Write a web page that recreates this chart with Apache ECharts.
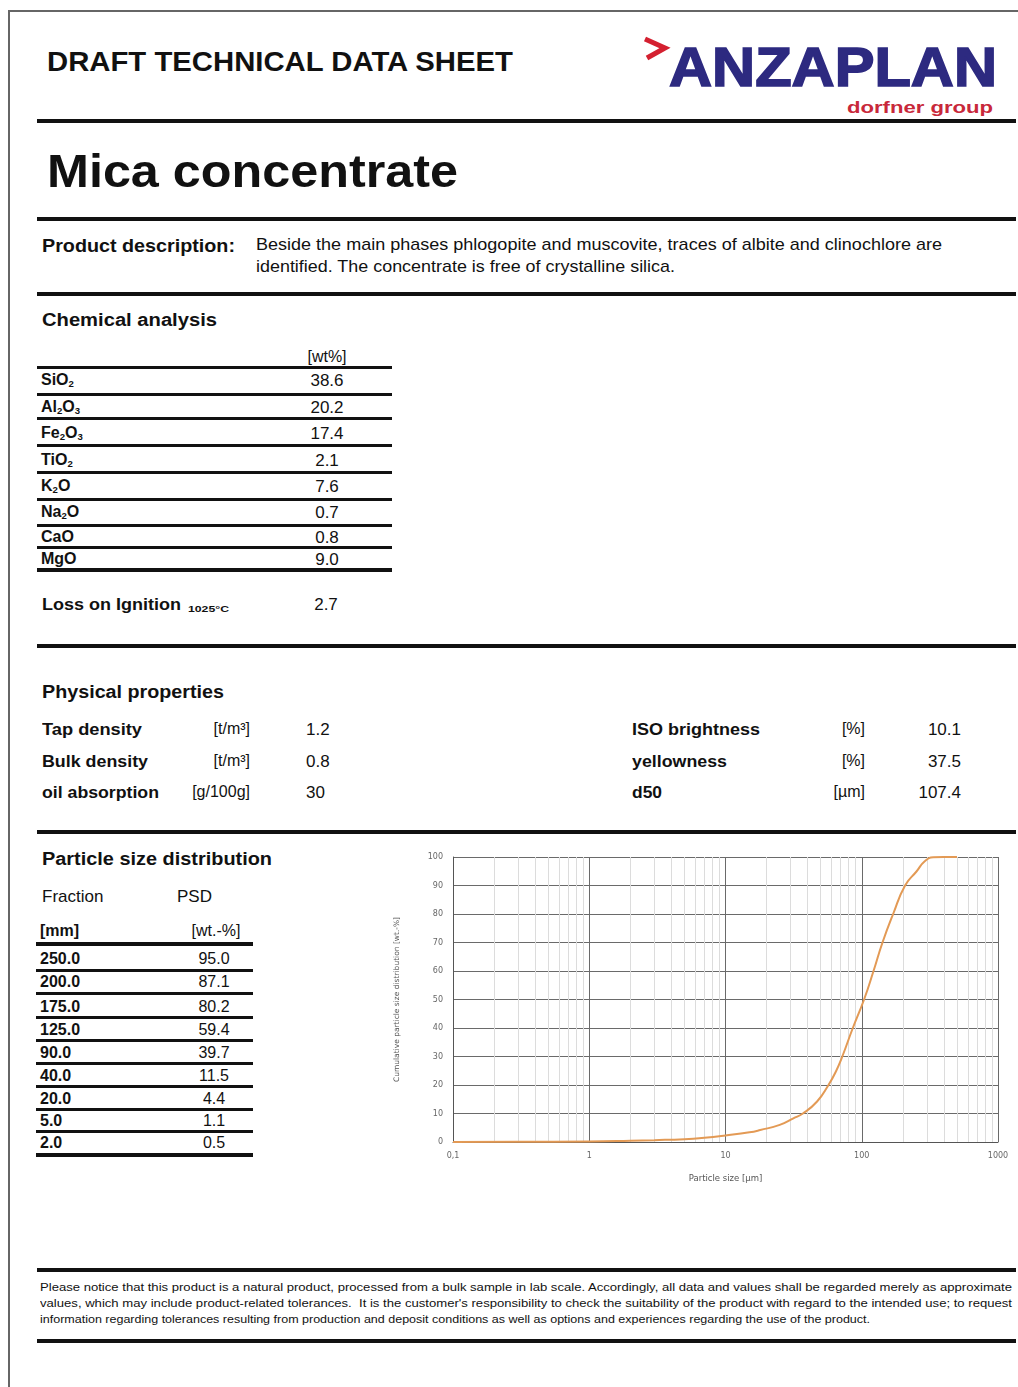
<!DOCTYPE html>
<html>
<head>
<meta charset="utf-8">
<script src="https://cdn.jsdelivr.net/npm/echarts@6/dist/echarts.min.js"></script>
<style>
html,body{margin:0;padding:0;background:#fff;}
body{width:1018px;height:1387px;position:relative;overflow:hidden;font-family:"Liberation Sans",Arial,sans-serif;color:#111;}
.t{position:absolute;white-space:nowrap;line-height:1;transform-origin:0 0;}
.r{position:absolute;background:#111;}
sub{font-size:0.6em;vertical-align:-0.22em;line-height:0;}
#chart{position:absolute;left:380px;top:840px;width:638px;height:360px;}
#frame{position:absolute;left:8px;top:10px;width:1020px;height:1390px;border-top:2px solid #666;border-left:2px solid #666;}
</style>
</head>
<body>
<div id="frame"></div>
<svg style="position:absolute;left:638px;top:33px" width="36" height="32"><polyline points="7,6 27,15 9,25" fill="none" stroke="#d42030" stroke-width="5" stroke-linejoin="miter"/></svg>
<div id="chart"></div>
<script>
// ---------- data ----------
const chemNames = ['SiO<sub>2</sub>','Al<sub>2</sub>O<sub>3</sub>','Fe<sub>2</sub>O<sub>3</sub>','TiO<sub>2</sub>','K<sub>2</sub>O','Na<sub>2</sub>O','CaO','MgO'];
const chemValues = ['38.6','20.2','17.4','2.1','7.6','0.7','0.8','9.0'];
const lossOnIgnition = '2.7';
const physLeftNames = ['Tap density','Bulk density','oil absorption'];
const physLeftUnits = ['[t/m³]','[t/m³]','[g/100g]'];
const physLeftValues = ['1.2','0.8','30'];
const physRightNames = ['ISO brightness','yellowness','d50'];
const physRightUnits = ['[%]','[%]','[µm]'];
const physRightValues = ['10.1','37.5','107.4'];
const psdFractions = ['250.0','200.0','175.0','125.0','90.0','40.0','20.0','5.0','2.0'];
const psdTableValues = ['95.0','87.1','80.2','59.4','39.7','11.5','4.4','1.1','0.5'];
// curve
const psdSize = [0.1, 0.3, 1, 2, 3, 5, 7, 10, 15, 18, 25, 31.5, 37, 47, 57, 65, 72, 86, 104, 122, 142, 170, 208, 253, 290, 335, 400, 500];
const psdCum  = [0, 0.05, 0.2, 0.45, 0.65, 1.0, 1.5, 2.3, 3.4, 4.2, 6.0, 8.3, 10, 14.2, 20, 25, 30, 40, 50, 60, 70, 80, 90, 95, 98.5, 99.9, 100, 100];
const yTicks = [0,10,20,30,40,50,60,70,80,90,100];
const xMajorTicks = ['0,1','1','10','100','1000'];
const minorTickValues = [0.2,0.3,0.4,0.5,0.6,0.7,0.8,0.9,2,3,4,5,6,7,8,9,20,30,40,50,60,70,80,90,200,300,400,500,600,700,800,900];

// ---------- text helpers ----------
const items = [];
function put(html, x, base, fs, o) {
  o = o || {};
  const d = document.createElement('div');
  d.className = 't';
  d.innerHTML = html;
  d.style.fontSize = fs + 'px';
  d.style.top = (base - 0.846 * fs) + 'px';
  d.style.left = x + 'px';
  if (o.b) d.style.fontWeight = 'bold';
  if (o.c) d.style.color = o.c;
  if (o.ff) d.style.fontFamily = o.ff;
  if (o.st) d.style.webkitTextStroke = o.st;
  document.body.appendChild(d);
  items.push({d, x, o});
}
function rule(x1, x2, top, h) {
  const d = document.createElement('div');
  d.className = 'r';
  d.style.left = x1 + 'px'; d.style.width = (x2 - x1) + 'px';
  d.style.top = top + 'px'; d.style.height = h + 'px';
  document.body.appendChild(d);
}
function layout() {
  items.forEach(({d, x, o}) => {
    d.style.transform = 'none';
    const w = d.getBoundingClientRect().width;
    if (o.w) {
      d.style.transform = 'scaleX(' + (o.w / w) + ')';
    } else if (o.al === 'c') {
      d.style.left = (x - w / 2) + 'px';
    } else if (o.al === 'r') {
      d.style.left = (x - w) + 'px';
    }
  });
}

// header
put('DRAFT TECHNICAL DATA SHEET', 47, 72, 28, {b:1, w:466});
put('ANZAPLAN', 669, 87, 55, {b:1, w:328, c:'#2d2a80', st:'1.6px #2d2a80'});
put('dorfner group', 847, 114, 16, {b:1, w:146, c:'#c8283a'});
rule(37, 1016, 119, 4);
put('Mica concentrate', 47, 187, 46, {b:1, w:411});
rule(37, 1016, 217, 4);
put('Product description:', 42, 252, 19, {b:1, w:193});
put('Beside the main phases phlogopite and muscovite, traces of albite and clinochlore are', 256, 250, 17, {w:686});
put('identified. The concentrate is free of crystalline silica.', 256, 272, 17, {w:419});
rule(37, 1016, 292, 4);

// chemical analysis
put('Chemical analysis', 42, 326, 18, {b:1, w:175});
put('[wt%]', 327, 363, 16, {al:'c'});
rule(37, 392, 366, 3);
const chemBase = [386, 413, 439, 466, 492, 518, 543, 565];
const chemLine = [393, 417, 444, 471, 498, 524, 546];
chemNames.forEach((n, i) => {
  put(n, 41, chemBase[i], 16, {b:1});
  put(chemValues[i], 327, chemBase[i], 17, {al:'c'});
  if (i < chemLine.length) rule(37, 392, chemLine[i], 3);
});
rule(37, 392, 568, 4);
put('Loss on Ignition', 42, 610, 17, {b:1, w:139});
put('1025°C', 188, 613, 9, {b:1, w:41});
put(lossOnIgnition, 326, 610, 17, {al:'c'});
rule(37, 1016, 644, 4);

// physical properties
put('Physical properties', 42, 698, 18, {b:1, w:182});
const physBase = [735, 767, 798];
const physLW = [100, 106, 117];
const physRW = [128, 95, 30];
physLeftNames.forEach((n, i) => {
  put(n, 42, physBase[i], 17, {b:1, w:physLW[i]});
  put(physLeftUnits[i], 250, physBase[i], 16, {al:'r'});
  put(physLeftValues[i], 306, physBase[i], 17);
  put(physRightNames[i], 632, physBase[i], 17, {b:1, w:physRW[i]});
  put(physRightUnits[i], 865, physBase[i], 16, {al:'r'});
  put(physRightValues[i], 961, physBase[i], 17, {al:'r'});
});
rule(37, 1016, 830, 4);

// particle size distribution table
put('Particle size distribution', 42, 865, 18, {b:1, w:230});
put('Fraction', 42, 902, 17);
put('PSD', 177, 902, 17);
put('[mm]', 40, 937, 16, {b:1});
put('[wt.-%]', 216, 937, 16, {al:'c'});
rule(36, 253, 942, 4);
const psdBase = [965, 988, 1013, 1036, 1059, 1082, 1105, 1127, 1149];
const psdLine = [969, 992, 1016, 1039, 1062, 1085, 1108, 1130];
psdFractions.forEach((f, i) => {
  put(f, 40, psdBase[i], 16, {b:1});
  put(psdTableValues[i], 214, psdBase[i], 16, {al:'c'});
  if (i < psdLine.length) rule(36, 253, psdLine[i], 3);
});
rule(36, 253, 1153, 4);

// footer
rule(37, 1016, 1268, 4);
put('Please notice that this product is a natural product, processed from a bulk sample in lab scale. Accordingly, all data and values shall be regarded merely as approximate', 40, 1291, 10.5, {w:972});
put('values, which may include product-related tolerances.&nbsp; It is the customer\'s responsibility to check the suitability of the product with regard to the intended use; to request', 40, 1307, 10.5, {w:972});
put('information regarding tolerances resulting from production and deposit conditions as well as options and experiences regarding the use of the product.', 40, 1323, 10.5, {w:830});
rule(37, 1016, 1339, 4);

layout();
if (document.fonts && document.fonts.ready) document.fonts.ready.then(layout);

// ---------- chart ----------
const chart = echarts.init(document.getElementById('chart'), null, {renderer: 'canvas'});
const axisFont = {fontFamily: '"DejaVu Sans",Verdana,sans-serif', fontSize: 8, color: '#666'};
chart.setOption({
  animation: false,
  grid: {left: 73, right: 20, top: 17, bottom: 58},
  xAxis: {
    type: 'log', logBase: 10, min: 0.1, max: 1000,
    axisLine: {show: true, lineStyle: {color: '#555', width: 1}},
    axisTick: {show: false},
    axisLabel: Object.assign({}, axisFont, {
      margin: 10,
      formatter: function (v) {
        const k = Math.round(Math.log10(v)) + 1;
        return xMajorTicks[k] !== undefined ? xMajorTicks[k] : String(v);
      }
    }),
    splitLine: {show: true, lineStyle: {color: '#6a6a6a', width: 1}},
    name: 'Particle size [µm]', nameLocation: 'middle', nameGap: 32,
    nameTextStyle: {fontFamily: '"DejaVu Sans",Verdana,sans-serif', fontSize: 8.5, color: '#555'}
  },
  yAxis: {
    type: 'value', min: yTicks[0], max: yTicks[yTicks.length - 1], interval: yTicks[1] - yTicks[0],
    axisLine: {show: true, lineStyle: {color: '#555', width: 1}},
    axisTick: {show: false},
    axisLabel: Object.assign({}, axisFont, {margin: 10}),
    splitLine: {show: true, lineStyle: {color: '#6a6a6a', width: 1}},
    name: 'Cumulative particle size distribution [wt.-%]', nameLocation: 'middle', nameGap: 52, nameRotate: 90,
    nameTextStyle: {fontFamily: '"DejaVu Sans",Verdana,sans-serif', fontSize: 7.5, color: '#555'}
  },
  series: [
    {
      type: 'line', data: [], z: 1, silent: true,
      markLine: {
        silent: true, symbol: ['none', 'none'], animation: false,
        label: {show: false},
        lineStyle: {color: '#dcdcdc', width: 1, type: 'solid'},
        emphasis: {disabled: true},
        data: minorTickValues.map(v => ({xAxis: v}))
      }
    },
    {
      type: 'line', z: 5,
      data: psdSize.map((x, i) => [x, psdCum[i]]),
      smooth: 0.5,
      symbol: 'none',
      lineStyle: {color: '#e39a55', width: 2}
    }
  ]
});
</script>
</body>
</html>
